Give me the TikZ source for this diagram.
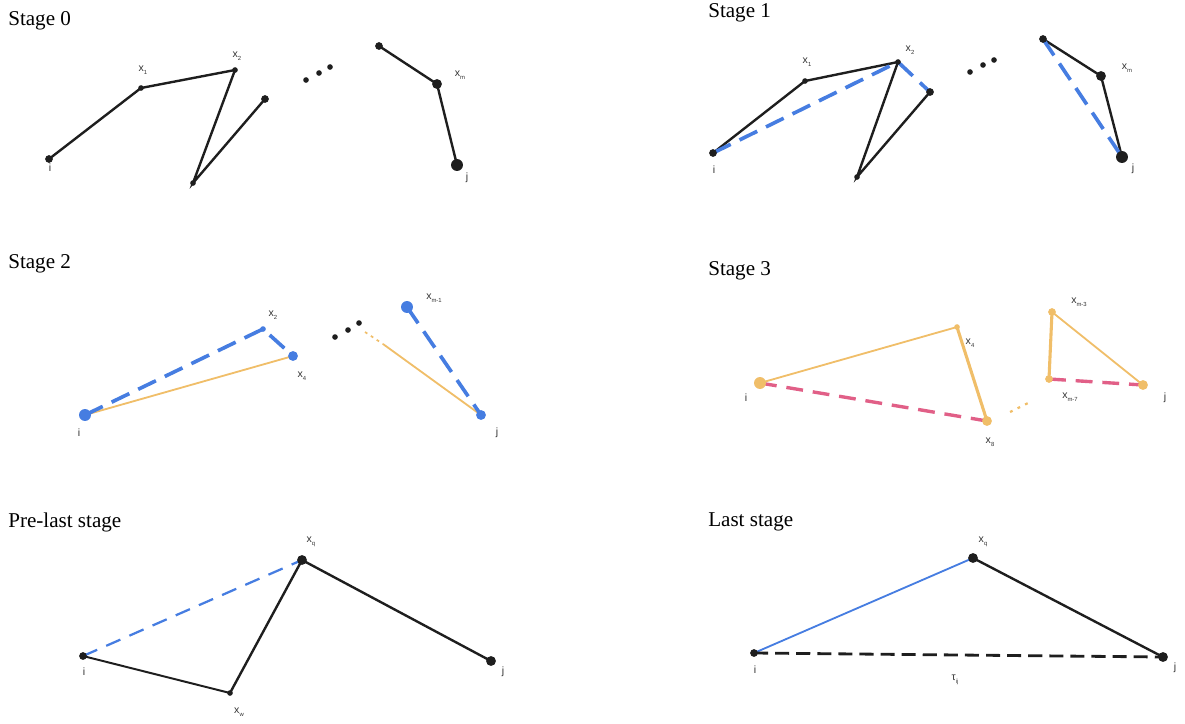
\documentclass[tikz,border=0pt]{standalone}
\usepackage{fontspec}
\setmainfont{Liberation Serif}
\newfontfamily\labfont{Liberation Sans}
\newcommand\xsub[2]{#1\raisebox{-0.45ex}{\fontsize{4.2}{5}\selectfont #2}}
\definecolor{cblue}{RGB}{70,125,225}
\definecolor{corange}{RGB}{240,190,105}
\definecolor{cpink}{RGB}{225,95,135}
\definecolor{cblack}{RGB}{30,30,30}
\begin{document}
\begin{tikzpicture}[x=0.025cm,y=-0.025cm,
  title/.style={anchor=west,font=\fontsize{15}{17}\selectfont,inner sep=0},
  lab/.style={font=\labfont\fontsize{7.5}{8}\selectfont,text=black!80,inner sep=0},
  dotS/.style={circle,fill=cblack,inner sep=0,minimum size=5.5pt},
  dotM/.style={circle,fill=cblack,inner sep=0,minimum size=7pt},
  dotL/.style={circle,fill=cblack,inner sep=0,minimum size=8.5pt},
  dotT/.style={circle,fill=cblack,inner sep=0,minimum size=4pt},
  blk/.style={draw=cblack,line width=1.7pt},
  bdash/.style={draw=cblue,line width=2.6pt,dash pattern=on 14pt off 7pt},
  bdashthin/.style={draw=cblue,line width=1.6pt,dash pattern=on 11pt off 7pt},
  oline/.style={draw=corange,line width=1.3pt},
  olinethick/.style={draw=corange,line width=2.2pt},
  pdash/.style={draw=cpink,line width=2.4pt,dash pattern=on 12pt off 7pt},
  kdash/.style={draw=cblack,line width=2pt,dash pattern=on 10pt off 5pt},
]
\useasboundingbox (0,0) rectangle (1185,724);

%% ---------- Stage 0 ----------
\node[title] (t0) at (8,21) {Stage 0};
\coordinate (a0) at (49,159);
\coordinate (a1) at (141,88);
\coordinate (a2) at (235,70);
\coordinate (a3) at (193,183);
\coordinate (a4) at (265,99);
\coordinate (a5) at (379,46);
\coordinate (a6) at (437,84);
\coordinate (a7) at (457,165);
\draw[blk] (a0) -- (a1) -- (a2) -- (a3) -- (a4);
\draw[blk] (a5) -- (a6) -- (a7);
\node[dotS] (a0d) at (a0) {};
\node[dotT] (a1d) at (a1) {};
\node[dotT] (a2d) at (a2) {};
\node[dotT] (a3d) at (a3) {};
\node[dotS] (a4d) at (a4) {};
\node[dotS] (a5d) at (a5) {};
\node[dotM] (a6d) at (a6) {};
\node[dotL] (a7d) at (a7) {};
\node[dotT] (ad1) at (306,80) {};
\node[dotT] (ad2) at (319,73) {};
\node[dotT] (ad3) at (330,67) {};
\node[lab] (la1) at (143,70) {\xsub{x}{1}};
\node[lab] (la2) at (237,56) {\xsub{x}{2}};
\node[lab] (la6) at (460,75) {\xsub{x}{m}};
\node[lab] (la0) at (50,168) {i};
\node[lab] (la7) at (467,178) {j};

%% ---------- Stage 1 ----------
\node[title] (t1) at (708,13) {Stage 1};
\coordinate (b0) at (713,153);
\coordinate (b1) at (805,81);
\coordinate (b2) at (898,62);
\coordinate (b3) at (857,177);
\coordinate (b4) at (930,92);
\coordinate (b5) at (1043,39);
\coordinate (b6) at (1101,76);
\coordinate (b7) at (1122,157);
\draw[blk] (b0) -- (b1) -- (b2) -- (b3) -- (b4);
\draw[blk] (b5) -- (b6) -- (b7);
\draw[bdash] (b0) -- (b2) -- (b4);
\draw[bdash] (b5) -- (b7);
\node[dotS] (b0d) at (b0) {};
\node[dotT] (b1d) at (b1) {};
\node[dotT] (b2d) at (b2) {};
\node[dotT] (b3d) at (b3) {};
\node[dotS] (b4d) at (b4) {};
\node[dotS] (b5d) at (b5) {};
\node[dotM] (b6d) at (b6) {};
\node[dotL] (b7d) at (b7) {};
\node[dotT] (bd1) at (970,72) {};
\node[dotT] (bd2) at (983,65) {};
\node[dotT] (bd3) at (994,60) {};
\node[lab] (lb1) at (807,62) {\xsub{x}{1}};
\node[lab] (lb2) at (910,50) {\xsub{x}{2}};
\node[lab] (lb6) at (1127,68) {\xsub{x}{m}};
\node[lab] (lb0) at (714,170) {i};
\node[lab] (lb7) at (1133,169) {j};

%% ---------- Stage 2 ----------
\node[title] (t2) at (8,264) {Stage 2};
\coordinate (c0) at (85,415);
\coordinate (c2) at (263,329);
\coordinate (c4) at (293,356);
\coordinate (c5) at (407,307);
\coordinate (c7) at (481,415);
\coordinate (cq) at (365,332);
\coordinate (cr) at (383,344);
\draw[oline] (c0) -- (c4);
\draw[oline] (cr) -- (c7);
\draw[corange,line width=1.2pt,dash pattern=on 2pt off 3pt] (cq) -- (cr);
\draw[bdash] (c0) -- (c2) -- (c4);
\draw[bdash] (c5) -- (c7);
\node[dotL,fill=cblue] (c0d) at (c0) {};
\node[dotT,fill=cblue] (c2d) at (c2) {};
\node[dotM,fill=cblue] (c4d) at (c4) {};
\node[dotL,fill=cblue] (c5d) at (c5) {};
\node[dotM,fill=cblue] (c7d) at (c7) {};
\node[dotT] (cd1) at (335,337) {};
\node[dotT] (cd2) at (348,330) {};
\node[dotT] (cd3) at (359,323) {};
\node[lab] (lc2) at (273,315) {\xsub{x}{2}};
\node[lab] (lc4) at (302,376) {\xsub{x}{4}};
\node[lab] (lc5) at (434,298) {\xsub{x}{m-1}};
\node[lab] (lc0) at (79,433) {i};
\node[lab] (lc7) at (497,433) {j};

%% ---------- Stage 3 ----------
\node[title] (t3) at (708,271) {Stage 3};
\coordinate (d0) at (760,383);
\coordinate (d4) at (957,327);
\coordinate (d8) at (987,421);
\coordinate (d5) at (1052,312);
\coordinate (d6) at (1049,379);
\coordinate (d7) at (1143,385);
\coordinate (dq) at (1010,412);
\coordinate (dr) at (1030,402);
\draw[oline] (d0) -- (d4);
\draw[olinethick] (d4) -- (d8);
\draw[olinethick] (d5) -- (d6);
\draw[oline] (d5) -- (d7);
\draw[pdash] (d0) -- (d8);
\draw[pdash] (d6) -- (d7);
\draw[corange,line width=1.6pt,dash pattern=on 2pt off 4pt] (dq) -- (dr);
\node[dotL,fill=corange] (d0d) at (d0) {};
\node[dotT,fill=corange] (d4d) at (d4) {};
\node[dotM,fill=corange] (d8d) at (d8) {};
\node[dotS,fill=corange] (d5d) at (d5) {};
\node[dotS,fill=corange] (d6d) at (d6) {};
\node[dotM,fill=corange] (d7d) at (d7) {};
\node[lab] (ld4) at (970,343) {\xsub{x}{4}};
\node[lab] (ld8) at (990,442) {\xsub{x}{8}};
\node[lab] (ld5) at (1079,302) {\xsub{x}{m-3}};
\node[lab] (ld6) at (1070,397) {\xsub{x}{m-7}};
\node[lab] (ld0) at (746,398) {i};
\node[lab] (ld7) at (1165,398) {j};

%% ---------- Pre-last stage ----------
\node[title] (t4) at (8,522) {Pre-last stage};
\coordinate (e0) at (83,656);
\coordinate (eq) at (302,560);
\coordinate (ew) at (230,693);
\coordinate (ej) at (491,661);
\draw[blk,line width=1.4pt] (e0) -- (ew);
\draw[blk] (ew) -- (eq) -- (ej);
\draw[bdashthin] (e0) -- (eq);
\node[dotS] (e0d) at (e0) {};
\node[dotM] (eqd) at (eq) {};
\node[dotT] (ewd) at (ew) {};
\node[dotM] (ejd) at (ej) {};
\node[lab] (leq) at (311,542) {\xsub{x}{q}};
\node[lab] (lew) at (239,712) {\xsub{x}{w}};
\node[lab] (le0) at (84,672) {i};
\node[lab] (lej) at (503,672) {j};

%% ---------- Last stage ----------
\node[title] (t5) at (708,522) {Last stage};
\coordinate (f0) at (754,653);
\coordinate (fq) at (973,558);
\coordinate (fj) at (1163,657);
\draw[cblue,line width=1.3pt] (f0) -- (fq);
\draw[blk] (fq) -- (fj);
\draw[kdash] (f0) -- (fj);
\node[dotS] (f0d) at (f0) {};
\node[dotM] (fqd) at (fq) {};
\node[dotM] (fjd) at (fj) {};
\node[lab] (lfq) at (983,542) {\xsub{x}{q}};
\node[lab] (lft) at (955,680) {\xsub{τ}{ij}};
\node[lab] (lf0) at (755,670) {i};
\node[lab] (lfj) at (1175,668) {j};
\end{tikzpicture}
\end{document}
